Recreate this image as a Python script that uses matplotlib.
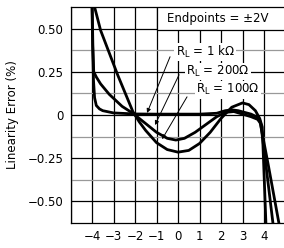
import matplotlib
matplotlib.use("Agg")
import matplotlib.pyplot as plt
from matplotlib.patches import Rectangle

plt.rcParams['font.family'] = ['DejaVu Sans']

# Data
x_1k = [-4.0, -3.97, -3.93, -3.88, -3.8, -3.65, -3.5, -3.0, -2.0, -1.0, 0.0, 1.0, 1.8, 2.2, 2.5, 2.8, 3.1, 3.4, 3.65, 3.8, 4.2, 4.7]
y_1k = [0.625, 0.4, 0.2, 0.1, 0.055, 0.035, 0.025, 0.012, 0.006, 0.005, 0.005, 0.005, 0.01, 0.025, 0.03, 0.025, 0.015, 0.005, -0.01, -0.03, -0.29, -0.63]

x_200 = [-3.99, -3.96, -3.92, -3.8, -3.6, -3.2, -2.6, -2.1, -1.5, -1.0, -0.5, -0.1, 0.3, 0.8, 1.3, 1.8, 2.2, 2.6, 3.0, 3.4, 3.7, 3.85, 4.1, 4.42]
y_200 = [0.625, 0.4, 0.25, 0.22, 0.18, 0.12, 0.05, 0.01, -0.05, -0.1, -0.135, -0.145, -0.135, -0.1, -0.055, -0.01, 0.015, 0.02, 0.005, -0.01, -0.025, -0.05, -0.3, -0.63]

x_100 = [-3.88, -3.6, -3.2, -2.8, -2.4, -2.1, -1.8, -1.5, -1.0, -0.5, 0.0, 0.5, 1.0, 1.5, 2.0, 2.5, 3.0, 3.3, 3.6, 3.8, 3.92, 4.09]
y_100 = [0.625, 0.49, 0.36, 0.23, 0.11, 0.02, -0.04, -0.09, -0.16, -0.2, -0.215, -0.205, -0.165, -0.1, -0.02, 0.045, 0.07, 0.06, 0.025, -0.02, -0.07, -0.63]

x_ticks = [-4, -3, -2, -1, 0, 1, 2, 3, 4]
x_ticklabels = ["\u22124", "\u22123", "\u22122", "\u22121", "0", "1", "2", "3", "4"]
y_ticks = [0.5, 0.25, 0, -0.25, -0.5]
y_ticklabels = ["0.50", "0.25", "0", "\u22120.25", "\u22120.50"]

labels = ["R$_\\mathregular{L}$ = 1 k\u03a9", "R$_\\mathregular{L}$ = 200\u03a9", "R$_\\mathregular{L}$ = 100\u03a9"]
label_pos = [(1.26, 0.366), (1.86, 0.25), (2.33, 0.145)]
arrow_tail = [(-0.37, 0.337), (0.05, 0.233), (0.42, 0.105)]
arrow_head = [(-1.44, 0.012), (-1.07, -0.058), (-0.74, -0.14)]

FS = 8.5

fig = plt.figure(figsize=(2.84, 2.48), dpi=100)
ax = fig.add_axes([70.5/284, 25/248, 215/284, 216/248])
ax.set_xlim(-5, 5)
ax.set_ylim(-0.625, 0.625)

# grid
for xv in range(-5, 6):
    ax.axvline(xv, color='black', lw=0.9, zorder=1)
for yv in [0.375, 0.125, -0.125, -0.375]:
    ax.axhline(yv, color='#999999', lw=0.9, zorder=1)
for yv in [0.5, 0.25, 0, -0.25, -0.5]:
    ax.axhline(yv, color='black', lw=0.9, zorder=1)

ax.plot(x_1k, y_1k, color='black', lw=2.0, zorder=3, solid_capstyle='butt')
ax.plot(x_200, y_200, color='black', lw=2.0, zorder=3, solid_capstyle='butt')
ax.plot(x_100, y_100, color='black', lw=2.0, zorder=3, solid_capstyle='butt')

ax.add_patch(Rectangle((-1, 0.49), 6.2, 0.2, facecolor='white', edgecolor='black', lw=0.9, zorder=4, clip_on=True))
ax.text(1.85, 0.558, "Endpoints = \u00b12V", ha='center', va='center', fontsize=FS, zorder=5)

for lab, pos in zip(labels, label_pos):
    ax.text(pos[0], pos[1], lab, ha='center', va='center', fontsize=FS, zorder=5,
            bbox=dict(facecolor='white', edgecolor='none', pad=0.8))
for t, h in zip(arrow_tail, arrow_head):
    ax.annotate("", xy=h, xytext=t, zorder=6,
                arrowprops=dict(arrowstyle='-|>', color='black', lw=0.7, mutation_scale=6, shrinkA=0, shrinkB=0))

ax.set_xticks(x_ticks)
ax.set_xticklabels(x_ticklabels, fontsize=FS)
ax.set_yticks(y_ticks)
ax.set_yticklabels(y_ticklabels, fontsize=FS)
ax.tick_params(length=0, pad=5)
ax.set_ylabel("Linearity Error (%)", fontsize=FS, labelpad=6)
for s in ax.spines.values():
    s.set_linewidth(0.9)
    s.set_zorder(7)

fig.savefig("out.png", dpi=100)
